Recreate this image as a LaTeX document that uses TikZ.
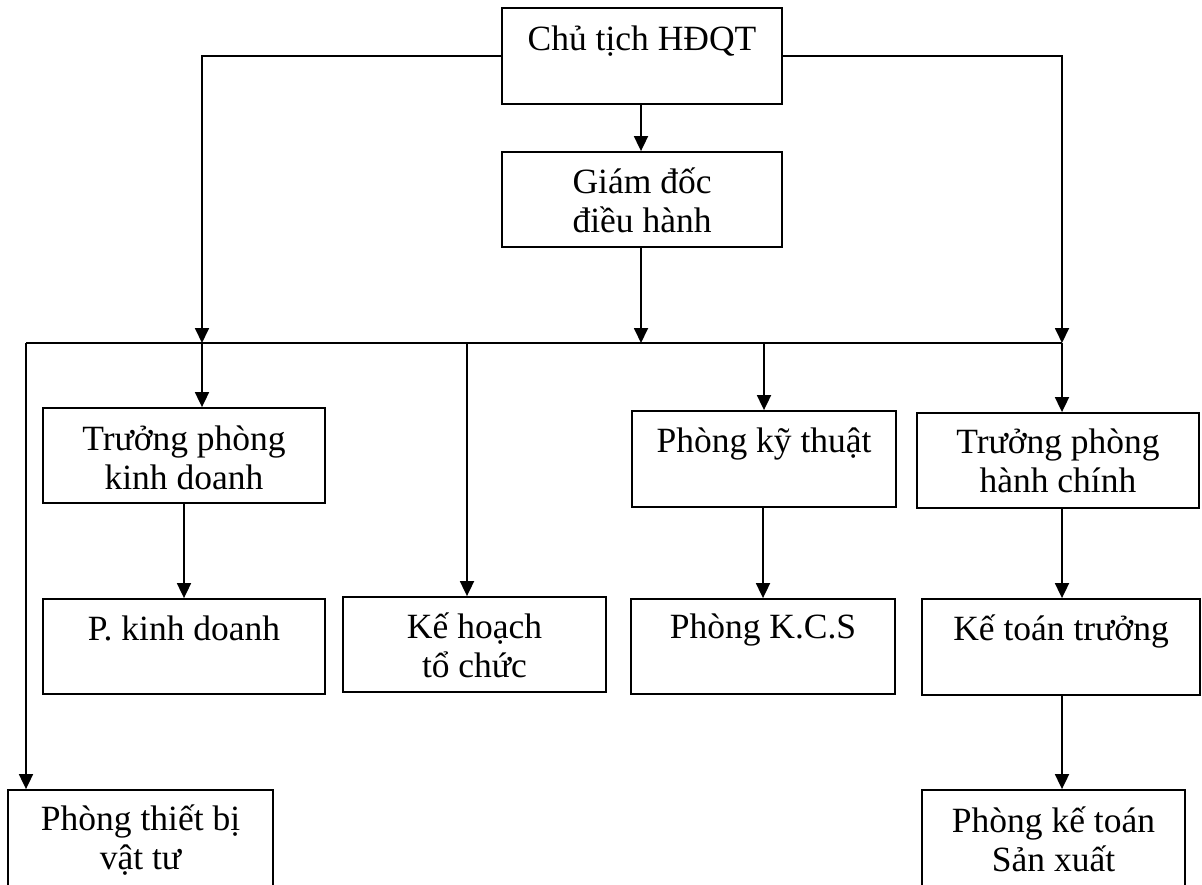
\documentclass[tikz,border=0pt]{standalone}
\usepackage{fontspec}
\setmainfont{Liberation Serif}
\usetikzlibrary{arrows.meta}
\begin{document}
\begin{tikzpicture}[x=1pt,y=-1pt,
  box/.style={draw, line width=1.8pt, inner sep=0pt, fill=none},
  txt/.style={font=\fontsize{35.5}{39}\selectfont, inner sep=0pt, anchor=base},
  ln/.style={line width=1.8pt},
  arr/.style={line width=1.8pt, -{Triangle[length=15pt,width=14pt]}}]
\useasboundingbox (0,0) rectangle (1202,884);
\clip (0,0) rectangle (1202,884);
% boxes
\node[box, minimum width=280pt, minimum height=96pt] (cht) at (642,56) {};
\node[box, minimum width=280pt, minimum height=95pt] (gd) at (642,199.5) {};
\node[box, minimum width=282pt, minimum height=95pt] (tpkd) at (184,455.5) {};
\node[box, minimum width=282pt, minimum height=95pt] (pkd) at (184,646.5) {};
\node[box, minimum width=263pt, minimum height=95pt] (kh) at (474.5,644.5) {};
\node[box, minimum width=264pt, minimum height=96pt] (pkt) at (764,459) {};
\node[box, minimum width=264pt, minimum height=95pt] (kcs) at (763,646.5) {};
\node[box, minimum width=282pt, minimum height=95pt] (tphc) at (1058,460.5) {};
\node[box, minimum width=278pt, minimum height=96pt] (ktt) at (1061,647) {};
\node[box, minimum width=265pt, minimum height=110pt] (ptb) at (140.5,845) {};
\node[box, minimum width=263pt, minimum height=110pt] (pkts) at (1053.5,845) {};
% texts
\node[txt] (cht-t) at (642,50) {Chủ tịch HĐQT};
\node[txt] (gd-t) at (642,193) {\begin{tabular}[t]{@{}c@{}}Giám đốc\\điều hành\end{tabular}};
\node[txt] (tpkd-t) at (184,450) {\begin{tabular}[t]{@{}c@{}}Trưởng phòng\\kinh doanh\end{tabular}};
\node[txt] (pkd-t) at (184,640) {P. kinh doanh};
\node[txt] (kh-t) at (474.5,638) {\begin{tabular}[t]{@{}c@{}}Kế hoạch\\tổ chức\end{tabular}};
\node[txt] (pkt-t) at (764,452) {Phòng kỹ thuật};
\node[txt] (kcs-t) at (763,638) {Phòng K.C.S};
\node[txt] (tphc-t) at (1058,453) {\begin{tabular}[t]{@{}c@{}}Trưởng phòng\\hành chính\end{tabular}};
\node[txt] (ktt-t) at (1061,640) {Kế toán trưởng};
\node[txt] (ptb-t) at (140.5,830) {\begin{tabular}[t]{@{}c@{}}Phòng thiết bị\\vật tư\end{tabular}};
\node[txt] (pkts-t) at (1053.5,832) {\begin{tabular}[t]{@{}c@{}}Phòng kế toán\\Sản xuất\end{tabular}};
% bus coordinates
\coordinate (busL) at (26,343);
\coordinate (b1) at (202,343);
\coordinate (b2) at (467,343);
\coordinate (bm) at (641,343);
\coordinate (b3) at (764,343);
\coordinate (busR) at (1062,343);
% top connectors
\draw[arr] (cht.west) -| (b1);
\draw[arr] (cht.east) -| (busR);
\draw[arr] (cht.south -| bm) -- (gd.north -| bm);
\draw[arr] (gd.south -| bm) -- (bm);
% bus
\draw[ln] (busL) -- (busR);
% drops
\draw[arr] (busL) -- (busL |- ptb.north);
\draw[arr] (b1) -- (b1 |- tpkd.north);
\draw[arr] (b2) -- (b2 |- kh.north);
\draw[arr] (b3) -- (b3 |- pkt.north);
\draw[arr] (busR) -- (busR |- tphc.north);
% lower connectors
\draw[arr] (tpkd.south) -- (pkd.north);
\draw[arr] (pkt.south -| kcs.north) -- (kcs.north);
\draw[arr] (busR |- tphc.south) -- (busR |- ktt.north);
\draw[arr] (busR |- ktt.south) -- (busR |- pkts.north);
\end{tikzpicture}
\end{document}
